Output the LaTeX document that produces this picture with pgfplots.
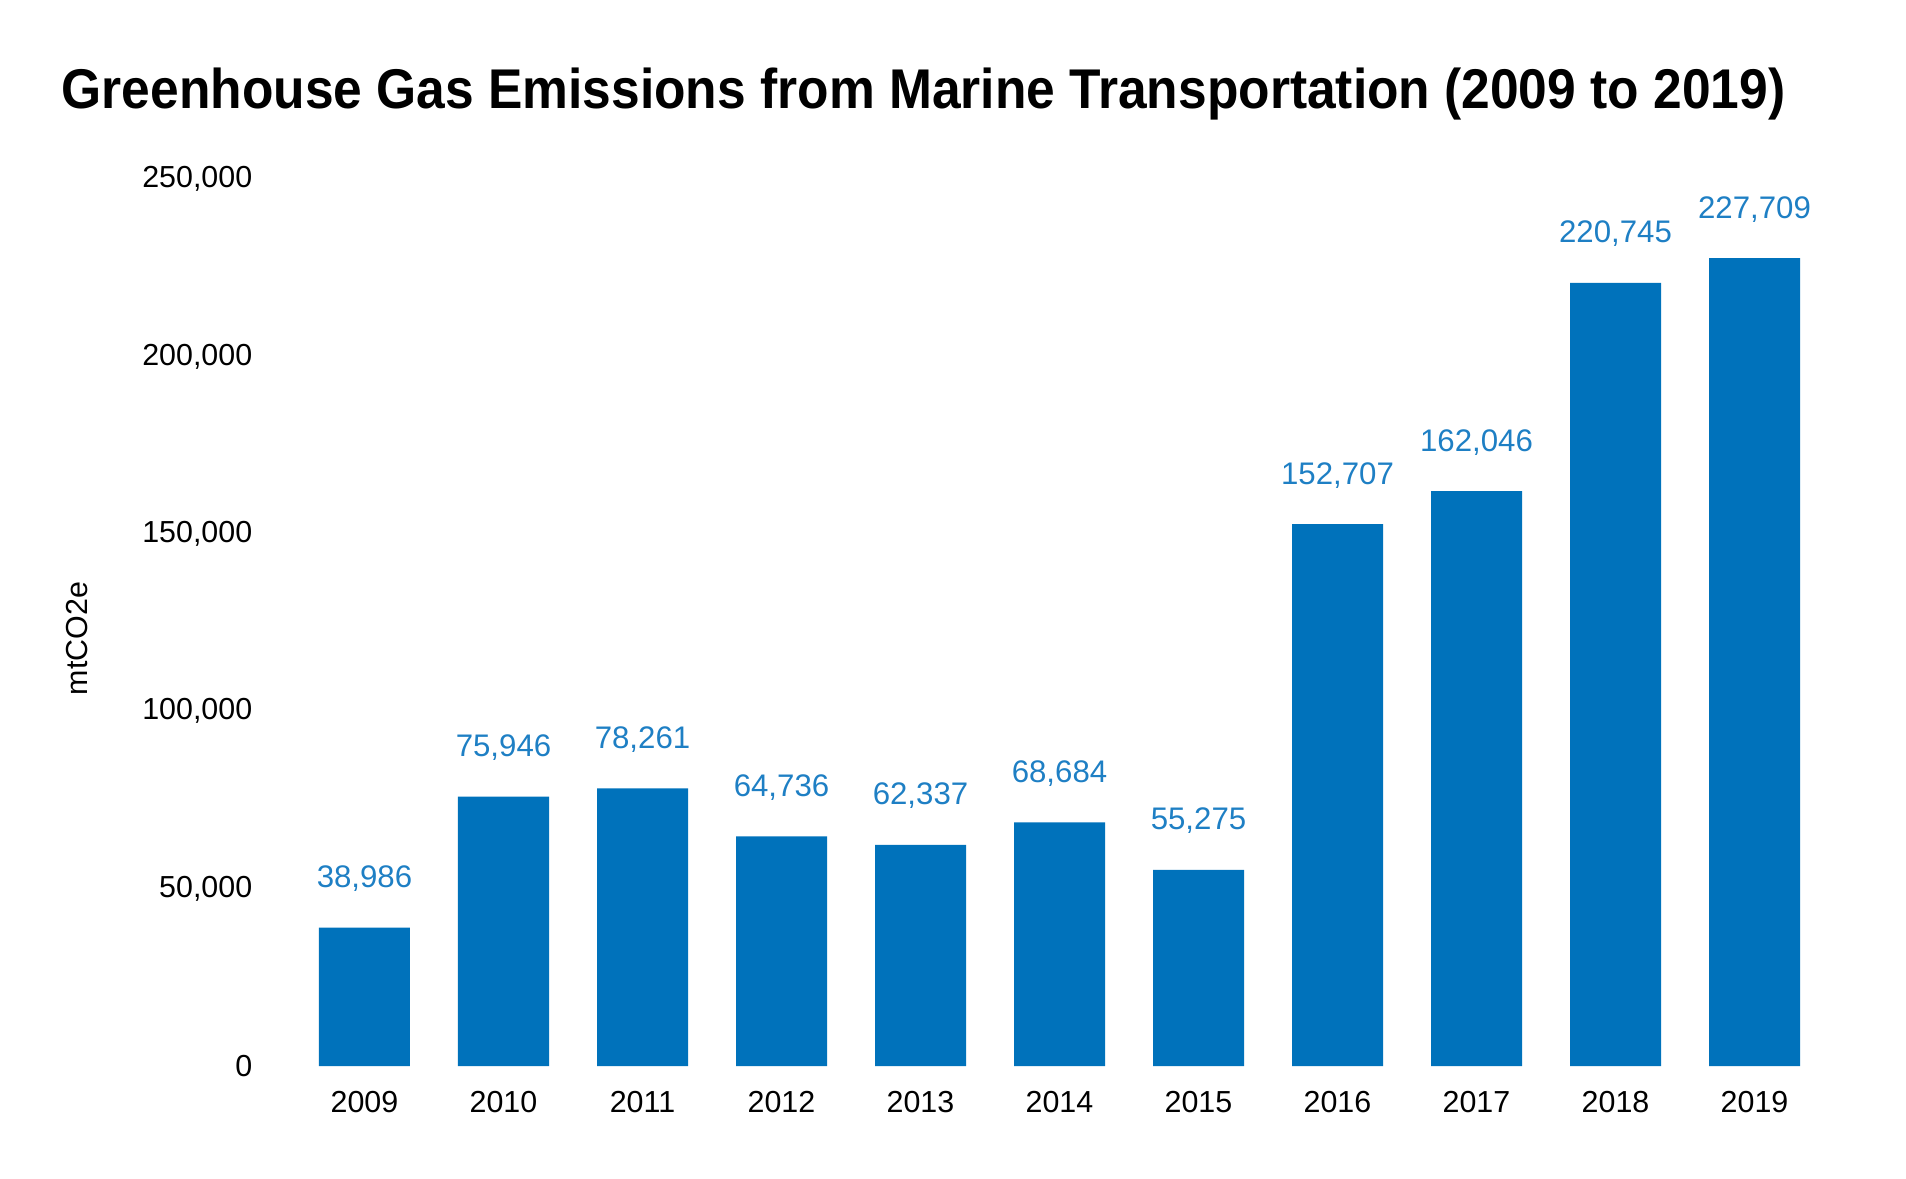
\documentclass[border=0pt]{standalone}
\usepackage{fontspec}
\setmainfont{Liberation Sans}
\newfontfamily\titlefont[FakeStretch=0.92]{Liberation Sans}
\usepackage{pgfplots}
\pgfplotsset{compat=1.18}
\definecolor{barblue}{RGB}{0,114,187}
\definecolor{lblblue}{RGB}{30,127,196}
\begin{document}
\begin{tikzpicture}
\useasboundingbox (-73.75pt,-28pt) rectangle (402.75pt,266.5pt);
\begin{axis}[
  scale only axis,
  width=382.25pt, height=221.75pt,
  xmin=-0.5, xmax=10.5,
  ymin=0, ymax=250000,
  ytick={0,50000,100000,150000,200000,250000},
  xtick={0,...,10},
  xticklabels={2009,2010,2011,2012,2013,2014,2015,2016,2017,2018,2019},
  scaled y ticks=false,
  /pgf/number format/assume math mode=true,
  yticklabel={\pgfmathprintnumber[fixed,precision=0,1000 sep={,}]{\tick}},
  axis line style={draw=none},
  major tick style={draw=none},
  ticklabel style={font=\fontsize{7.6pt}{9pt}\selectfont, text=black},
  yticklabel style={anchor=east, inner sep=0pt, xshift=-10.5pt},
  xticklabel style={anchor=north, inner sep=0pt, yshift=-1.8pt},
  ylabel={mtCO2e},
  ylabel style={at={(axis description cs:0,0.482)}, anchor=center, yshift=54.5pt, font=\fontsize{7.6pt}{9pt}\selectfont},
  title={\titlefont\bfseries Greenhouse Gas Emissions from Marine Transportation (2009 to 2019)},
  title style={at={(axis description cs:0,1)}, anchor=base west, xshift=-58.5pt, yshift=11.5pt, font=\fontsize{14pt}{17pt}\selectfont, inner sep=0pt},
  ybar, bar width=22.75pt,
  nodes near coords={\pgfmathprintnumber[fixed,precision=0,1000 sep={,}]{\pgfplotspointmeta}},
  every node near coord/.append style={anchor=base, inner sep=0pt, yshift=10pt, text=lblblue, font=\fontsize{7.8pt}{9pt}\selectfont},
]
\addplot[fill=barblue, draw=none] coordinates {
(0,38986) (1,75946) (2,78261) (3,64736) (4,62337) (5,68684)
(6,55275) (7,152707) (8,162046) (9,220745) (10,227709)
};
\end{axis}
\end{tikzpicture}
\end{document}
